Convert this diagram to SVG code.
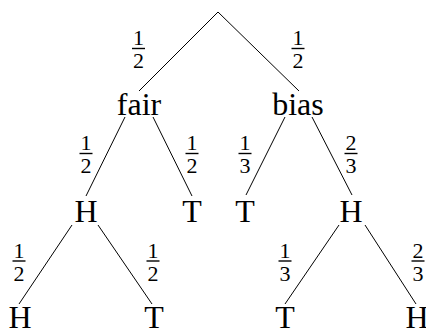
<svg xmlns="http://www.w3.org/2000/svg" width="426" height="328" viewBox="0 0 426 328">
<style>
.n{font-family:"Liberation Serif","Times New Roman",serif;font-size:32px;text-anchor:middle;fill:#000}
.f{font-family:"Liberation Serif","Times New Roman",serif;font-size:22px;text-anchor:middle;fill:#000}
.e{stroke:#000;stroke-width:1;fill:none}
.b{stroke:#000;stroke-width:1.4}
</style>
<rect width="426" height="328" fill="#fff"/>
<g id="edges">
<line class="e" x1="218" y1="12" x2="139" y2="91"/>
<line class="e" x1="218" y1="12" x2="299" y2="91"/>
<line class="e" x1="125" y1="117" x2="86" y2="196"/>
<line class="e" x1="153" y1="117" x2="192" y2="196"/>
<line class="e" x1="285" y1="117" x2="246" y2="195"/>
<line class="e" x1="312" y1="117" x2="352" y2="195"/>
<line class="e" x1="72" y1="225" x2="19" y2="304"/>
<line class="e" x1="98" y1="225" x2="152" y2="304"/>
<line class="e" x1="339" y1="225" x2="285" y2="304"/>
<line class="e" x1="365" y1="225" x2="416" y2="304"/>
</g>
<g id="labels">
<g id="l-fair"><text class="f" x="138.5" y="45">1</text><line class="b" x1="132" y1="48.5" x2="145" y2="48.5"/><text class="f" x="138.5" y="68">2</text></g>
<g id="l-bias"><text class="f" x="298" y="45">1</text><line class="b" x1="291.5" y1="48.5" x2="304.5" y2="48.5"/><text class="f" x="298" y="68">2</text></g>
<g id="l-fH"><text class="f" x="86" y="150">1</text><line class="b" x1="79.5" y1="153.5" x2="92.5" y2="153.5"/><text class="f" x="86" y="173">2</text></g>
<g id="l-fT"><text class="f" x="192" y="150">1</text><line class="b" x1="185.5" y1="153.5" x2="198.5" y2="153.5"/><text class="f" x="192" y="173">2</text></g>
<g id="l-bT"><text class="f" x="245" y="150">1</text><line class="b" x1="238.5" y1="153.5" x2="251.5" y2="153.5"/><text class="f" x="245" y="173">3</text></g>
<g id="l-bH"><text class="f" x="351" y="150">2</text><line class="b" x1="344.5" y1="153.5" x2="357.5" y2="153.5"/><text class="f" x="351" y="173">3</text></g>
<g id="l-HH"><text class="f" x="19" y="257.5">1</text><line class="b" x1="12.5" y1="261" x2="25.5" y2="261"/><text class="f" x="19" y="281">2</text></g>
<g id="l-HT"><text class="f" x="153" y="257.5">1</text><line class="b" x1="146.5" y1="261" x2="159.5" y2="261"/><text class="f" x="153" y="281">2</text></g>
<g id="l-HT2"><text class="f" x="285" y="257.5">1</text><line class="b" x1="278.5" y1="261" x2="291.5" y2="261"/><text class="f" x="285" y="281">3</text></g>
<g id="l-HH2"><text class="f" x="418" y="257.5">2</text><line class="b" x1="411.5" y1="261" x2="424.5" y2="261"/><text class="f" x="418" y="281">3</text></g>
</g>
<g id="fair"><text class="n" x="139" y="115">fair</text></g>
<g id="bias"><text class="n" x="298" y="115">bias</text></g>
<g id="fair-H"><text class="n" x="86" y="222">H</text></g>
<g id="fair-T"><text class="n" x="192" y="222">T</text></g>
<g id="bias-T"><text class="n" x="245" y="222">T</text></g>
<g id="bias-H"><text class="n" x="351" y="222">H</text></g>
<g id="HH"><text class="n" x="20" y="328">H</text></g>
<g id="HT"><text class="n" x="154" y="328">T</text></g>
<g id="HT2"><text class="n" x="285" y="328">T</text></g>
<g id="HH2"><text class="n" x="417" y="328">H</text></g>
</svg>
